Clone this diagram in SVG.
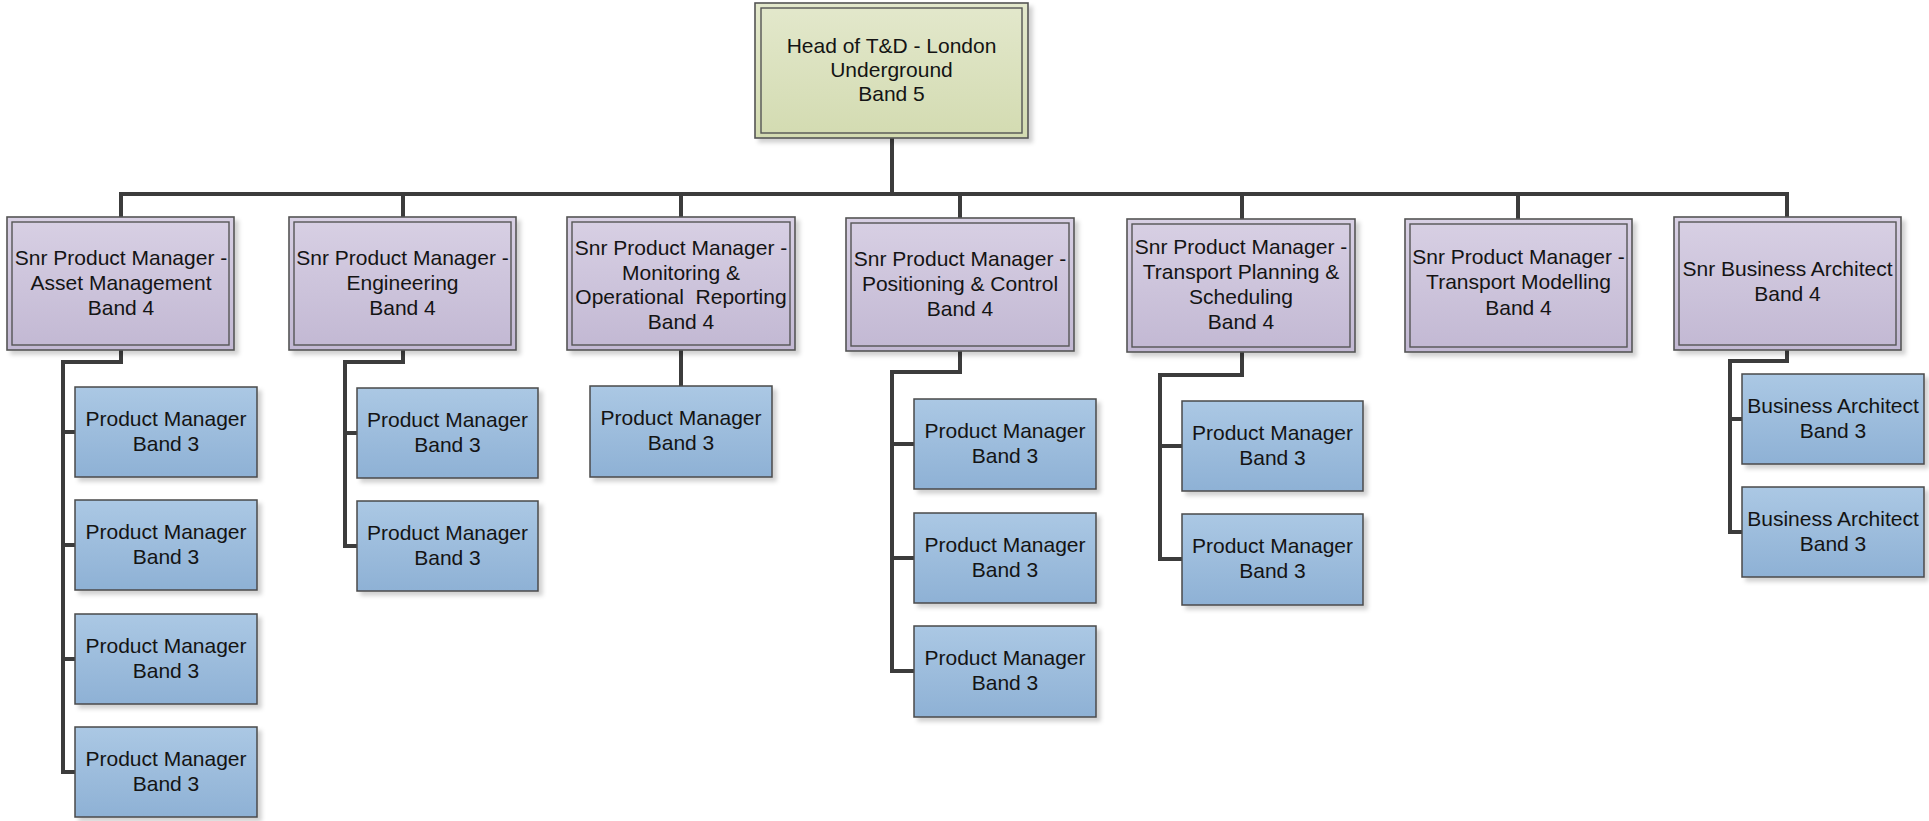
<svg xmlns="http://www.w3.org/2000/svg" width="1929" height="821" viewBox="0 0 1929 821">
<defs>
<linearGradient id="gGreen" x1="0" y1="0" x2="0" y2="1"><stop offset="0" stop-color="#e3e8cc"/><stop offset="1" stop-color="#d3dbb1"/></linearGradient>
<linearGradient id="gPurple" x1="0" y1="0" x2="0" y2="1"><stop offset="0" stop-color="#d8d0e4"/><stop offset="1" stop-color="#c2b8d3"/></linearGradient>
<linearGradient id="gBlue" x1="0" y1="0" x2="0" y2="1"><stop offset="0" stop-color="#abc8e4"/><stop offset="1" stop-color="#8eb1d5"/></linearGradient>
<filter id="sh" x="-10%" y="-10%" width="130%" height="130%"><feDropShadow dx="4" dy="4" stdDeviation="2" flood-color="#000" flood-opacity="0.18"/></filter>
<style>
.outer{stroke:#555;stroke-width:1.6;filter:url(#sh)}
.inner{fill:none;stroke:#555;stroke-width:1.4}
.green{fill:url(#gGreen)}
.purple{fill:url(#gPurple)}
.blue{fill:url(#gBlue);stroke:#4a4a4a;stroke-width:1.5;filter:url(#sh)}
text{font-family:"Liberation Sans",Arial,sans-serif;font-size:21px;fill:#141414;text-anchor:middle}
.pre{white-space:pre}
.conn{fill:none;stroke:#3c3c3c;stroke-width:4;stroke-linejoin:miter;stroke-linecap:butt}
</style>
</defs>
<rect width="1929" height="821" fill="#fff"/>

<g id="connectors">
<path class="conn" d="M892,138 V194 M119,194 H1789 M121,194 V217 M403,194 V217 M681,194 V217 M960,194 V218 M1242,194 V219 M1518,194 V219 M1787,194 V217"/>
<path class="conn" d="M121,350 V362 H63 V772 H75 M63,432 H75 M63,545 H75 M63,659 H75"/>
<path class="conn" d="M403,350 V362 H345 V546 H357 M345,433 H357"/>
<path class="conn" d="M681,350 V386"/>
<path class="conn" d="M960,351 V372 H892 V671 H914 M892,444 H914 M892,558 H914"/>
<path class="conn" d="M1242,352 V375 H1160 V559 H1182 M1160,446 H1182"/>
<path class="conn" d="M1787,350 V361 H1730 V532 H1742 M1730,419 H1742"/>
</g>

<g id="head">
<rect class="outer green" x="755" y="3" width="273" height="135"/>
<rect class="inner" x="761" y="8" width="261" height="125"/>
<text x="891.5" y="53">Head of T&amp;D - London</text>
<text x="891.5" y="77">Underground</text>
<text x="891.5" y="101">Band 5</text>
</g>

<g id="snr-asset">
<rect class="outer purple" x="7" y="217" width="227" height="133"/>
<rect class="inner" x="12" y="222" width="217" height="123"/>
<text x="121" y="265">Snr Product Manager -</text>
<text x="121" y="290">Asset Management</text>
<text x="121" y="315">Band 4</text>
</g>

<g id="snr-engineering">
<rect class="outer purple" x="289" y="217" width="227" height="133"/>
<rect class="inner" x="294" y="222" width="217" height="123"/>
<text x="402.5" y="265">Snr Product Manager -</text>
<text x="402.5" y="290">Engineering</text>
<text x="402.5" y="315">Band 4</text>
</g>

<g id="snr-monitoring">
<rect class="outer purple" x="567" y="217" width="228" height="133"/>
<rect class="inner" x="572" y="222" width="218" height="123"/>
<text x="681" y="255">Snr Product Manager -</text>
<text x="681" y="279.5">Monitoring &amp;</text>
<text class="pre" x="681" y="304" xml:space="preserve">Operational  Reporting</text>
<text x="681" y="328.5">Band 4</text>
</g>

<g id="snr-positioning">
<rect class="outer purple" x="846" y="218" width="228" height="133"/>
<rect class="inner" x="851" y="223" width="218" height="123"/>
<text x="960" y="266">Snr Product Manager -</text>
<text x="960" y="291">Positioning &amp; Control</text>
<text x="960" y="316">Band 4</text>
</g>

<g id="snr-planning">
<rect class="outer purple" x="1127" y="219" width="228" height="133"/>
<rect class="inner" x="1132" y="224" width="218" height="123"/>
<text x="1241" y="254">Snr Product Manager -</text>
<text x="1241" y="279">Transport Planning &amp;</text>
<text x="1241" y="304">Scheduling</text>
<text x="1241" y="329">Band 4</text>
</g>

<g id="snr-modelling">
<rect class="outer purple" x="1405" y="219" width="227" height="133"/>
<rect class="inner" x="1410" y="224" width="217" height="123"/>
<text x="1518.5" y="264">Snr Product Manager -</text>
<text x="1518.5" y="289">Transport Modelling</text>
<text x="1518.5" y="315">Band 4</text>
</g>

<g id="snr-business-architect">
<rect class="outer purple" x="1674" y="217" width="227" height="133"/>
<rect class="inner" x="1679" y="222" width="217" height="123"/>
<text x="1787.5" y="276">Snr Business Architect</text>
<text x="1787.5" y="301">Band 4</text>
</g>

<g id="pm-asset-1"><rect class="blue" x="75" y="387" width="182" height="90"/><text x="166" y="426">Product Manager</text><text x="166" y="451">Band 3</text></g>
<g id="pm-asset-2"><rect class="blue" x="75" y="500" width="182" height="90"/><text x="166" y="539">Product Manager</text><text x="166" y="564">Band 3</text></g>
<g id="pm-asset-3"><rect class="blue" x="75" y="614" width="182" height="90"/><text x="166" y="653">Product Manager</text><text x="166" y="678">Band 3</text></g>
<g id="pm-asset-4"><rect class="blue" x="75" y="727" width="182" height="90"/><text x="166" y="766">Product Manager</text><text x="166" y="791">Band 3</text></g>

<g id="pm-eng-1"><rect class="blue" x="357" y="388" width="181" height="90"/><text x="447.5" y="427">Product Manager</text><text x="447.5" y="452">Band 3</text></g>
<g id="pm-eng-2"><rect class="blue" x="357" y="501" width="181" height="90"/><text x="447.5" y="540">Product Manager</text><text x="447.5" y="565">Band 3</text></g>

<g id="pm-mon-1"><rect class="blue" x="590" y="386" width="182" height="91"/><text x="681" y="425">Product Manager</text><text x="681" y="450">Band 3</text></g>

<g id="pm-pos-1"><rect class="blue" x="914" y="399" width="182" height="90"/><text x="1005" y="438">Product Manager</text><text x="1005" y="463">Band 3</text></g>
<g id="pm-pos-2"><rect class="blue" x="914" y="513" width="182" height="90"/><text x="1005" y="552">Product Manager</text><text x="1005" y="577">Band 3</text></g>
<g id="pm-pos-3"><rect class="blue" x="914" y="626" width="182" height="91"/><text x="1005" y="665">Product Manager</text><text x="1005" y="690">Band 3</text></g>

<g id="pm-plan-1"><rect class="blue" x="1182" y="401" width="181" height="90"/><text x="1272.5" y="440">Product Manager</text><text x="1272.5" y="465">Band 3</text></g>
<g id="pm-plan-2"><rect class="blue" x="1182" y="514" width="181" height="91"/><text x="1272.5" y="553">Product Manager</text><text x="1272.5" y="578">Band 3</text></g>

<g id="ba-1"><rect class="blue" x="1742" y="374" width="182" height="90"/><text x="1833" y="413">Business Architect</text><text x="1833" y="438">Band 3</text></g>
<g id="ba-2"><rect class="blue" x="1742" y="487" width="182" height="90"/><text x="1833" y="526">Business Architect</text><text x="1833" y="551">Band 3</text></g>
</svg>
